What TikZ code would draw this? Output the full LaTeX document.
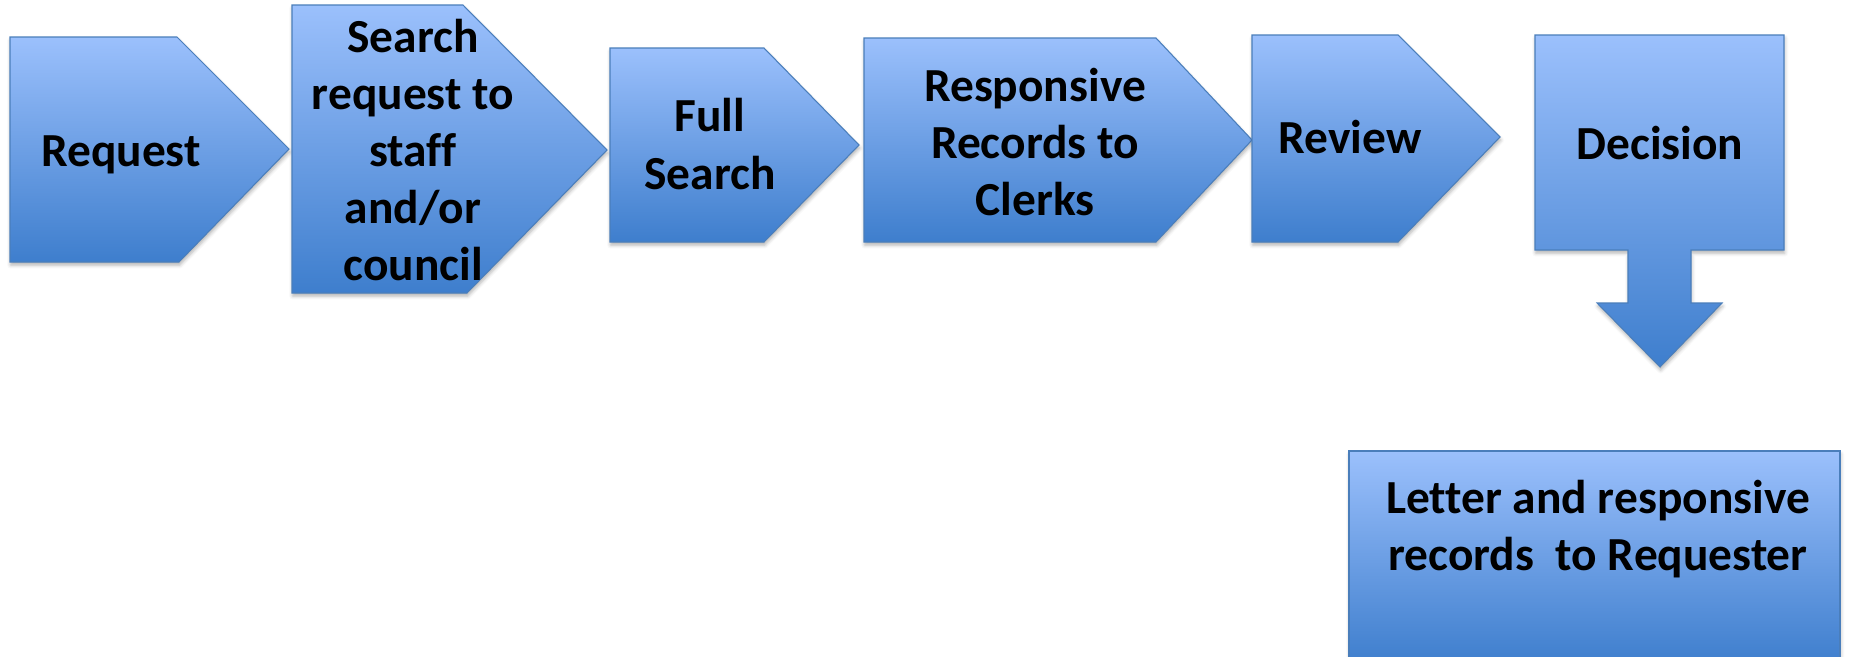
\documentclass[tikz,border=0pt]{standalone}
\usepackage{fontspec}
\setmainfont{Carlito}[Ligatures=NoCommon]
\usetikzlibrary{shadows.blur}

\definecolor{stagetop}{RGB}{155,192,252}
\definecolor{stagebot}{RGB}{62,126,205}
\definecolor{stageline}{RGB}{74,126,187}

\begin{document}
\begin{tikzpicture}[x=0.02cm, y=-0.02cm,
  stage/.style={draw=stageline, line width=0.6pt, top color=stagetop,
                bottom color=stagebot,
                blur shadow={shadow xshift=0.4pt, shadow yshift=-1.8pt,
                             shadow blur radius=2pt, shadow opacity=30}},
  lbl/.style={align=center, font=\bfseries\fontsize{27}{32.5}\selectfont}
]
\useasboundingbox (0,0) rectangle (1852,656);

%% ---- pentagons, left to right ----
\path[stage] (10,37)   -- (177,37)  -- (289,149)  -- (179,262)  -- (10,262)   -- cycle;
\path[stage] (292,5)   -- (463,5)   -- (607,150)  -- (467,293)  -- (292,293)  -- cycle;
\path[stage] (610,48)  -- (764,48)  -- (859,145)  -- (764,242)  -- (610,242)  -- cycle;
\path[stage] (864,38)  -- (1156,38) -- (1252,140) -- (1156,242) -- (864,242)  -- cycle;
\path[stage] (1252,35) -- (1398,35) -- (1500,137) -- (1398,242) -- (1252,242) -- cycle;

%% ---- decision box with down arrow ----
\path[stage] (1535,35) -- (1784,35) -- (1784,250) -- (1691,250) -- (1691,303)
  -- (1722,303) -- (1660,367) -- (1597,303) -- (1628,303) -- (1628,250)
  -- (1535,250) -- cycle;

%% ---- final box (runs off the bottom) ----
\path[stage] (1349,451) rectangle (1840,664);

%% ---- labels ----
\node[lbl, anchor=base] (request)  at (121,166)  {Request};
\node[lbl]              (search)   at (413,150)  {Search\\request to\\staff\\and/or\\council};
\node[lbl]              (full)     at (710,144)  {Full\\Search};
\node[lbl]              (records)  at (1035,142) {Responsive\\Records to\\Clerks};
\node[lbl, anchor=base] (review)   at (1350,153) {Review};
\node[lbl, anchor=base] (decision) at (1660,159) {Decision};
\node[lbl]              (letter)   at (1598,529) {Letter and responsive\\records~~to Requester};
\end{tikzpicture}
\end{document}
